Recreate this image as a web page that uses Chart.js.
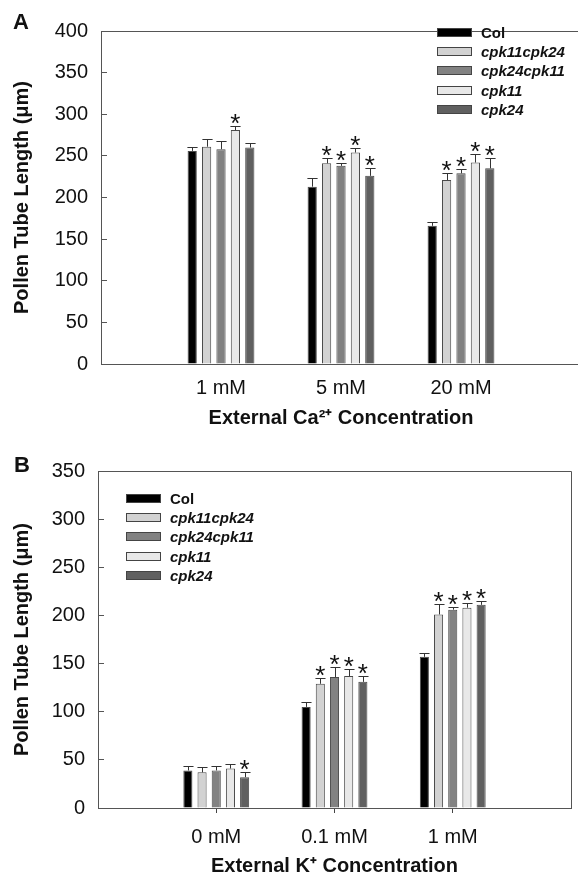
<!DOCTYPE html>
<html>
<head>
<meta charset="utf-8">
<script src="https://cdn.jsdelivr.net/npm/chart.js@4.4.1/dist/chart.umd.min.js"></script>
<style>
  html, body { margin: 0; padding: 0; background: #fff; overflow: hidden; }
  #page { position: relative; width: 578px; height: 878px; overflow: hidden; font-family: "Liberation Sans", Arial, sans-serif; color: #111; }
  canvas { position: absolute; left: 0; }
  #chartA { top: 0; }
  #chartB { top: 440px; }
  .panel { position: absolute; font-weight: bold; font-size: 22px; line-height: 22px; }
  .legend { position: absolute; font-size: 15px; font-weight: bold; font-style: italic; }
  .legend .row { display: flex; align-items: center; height: 19.2px; }
  .legend .row.upright { font-style: normal; }
  .legend .sw { width: 35px; height: 9px; border: 1px solid #444; box-sizing: border-box; margin-right: 9px; }
</style>
</head>
<body>
<div id="page">
  <canvas id="chartA" width="584" height="440"></canvas>
  <canvas id="chartB" width="578" height="438"></canvas>
  <div class="panel" style="left:13px; top:11px;">A</div>
  <div class="panel" style="left:14px; top:454px;">B</div>
  <div class="legend" id="legendA" style="left:437px; top:23px;"></div>
  <div class="legend" id="legendB" style="left:126px; top:489px;"></div>
</div>
<script>
const FONT = '"Liberation Sans", Arial, sans-serif';

const seriesNames = ['Col', 'cpk11cpk24', 'cpk24cpk11', 'cpk11', 'cpk24'];
const seriesColors = ['#000000', '#d2d2d2', '#828282', '#e8e8e8', '#606060'];

// Panel A - external Ca2+
const caLabels = ['1 mM', '5 mM', '20 mM'];
const caCol = [256, 213, 166];
const caCpk11cpk24 = [261, 241, 221];
const caCpk24cpk11 = [258, 238, 229];
const caCpk11 = [281, 254, 242];
const caCpk24 = [260, 226, 235];
const caColErr = [5, 10, 5];
const caCpk11cpk24Err = [9, 6, 9];
const caCpk24cpk11Err = [10, 4, 5];
const caCpk11Err = [5, 5, 10];
const caCpk24Err = [5, 10, 12];
const caColSig = [0, 0, 0];
const caCpk11cpk24Sig = [0, 1, 1];
const caCpk24cpk11Sig = [0, 1, 1];
const caCpk11Sig = [1, 1, 1];
const caCpk24Sig = [0, 1, 1];

// Panel B - external K+
const kLabels = ['0 mM', '0.1 mM', '1 mM'];
const kCol = [39, 105, 157];
const kCpk11cpk24 = [37, 129, 201];
const kCpk24cpk11 = [39, 136, 206];
const kCpk11 = [41, 137, 208];
const kCpk24 = [32, 131, 211];
const kColErr = [4.5, 5, 4];
const kCpk11cpk24Err = [6, 6, 11];
const kCpk24cpk11Err = [5, 10, 2.5];
const kCpk11Err = [5, 7, 5];
const kCpk24Err = [5, 6, 4];
const kColSig = [0, 0, 0];
const kCpk11cpk24Sig = [0, 1, 1];
const kCpk24cpk11Sig = [0, 1, 1];
const kCpk11Sig = [0, 1, 1];
const kCpk24Sig = [1, 1, 1];

const yTicksA = { min: 0, max: 400, step: 50 };
const yTicksB = { min: 0, max: 350, step: 50 };

// error bars + asterisks
const errorBars = {
  id: 'errorBars',
  afterDatasetsDraw(chart) {
    const { ctx } = chart;
    const y = chart.scales.y;
    ctx.save();
    ctx.strokeStyle = '#333';
    ctx.fillStyle = '#111';
    ctx.lineWidth = 1;
    ctx.font = '26px ' + FONT;
    ctx.textAlign = 'center';
    ctx.textBaseline = 'alphabetic';
    const m = ctx.measureText('*');
    chart.data.datasets.forEach((ds, i) => {
      const meta = chart.getDatasetMeta(i);
      ds.data.forEach((v, j) => {
        if (v === null) return;
        const el = meta.data[j];
        const k = j - 1;
        const top = Math.round(y.getPixelForValue(v + ds.errs[k])) + 0.5;
        const half = el.width / 2 + 0.5;
        const x = Math.round(el.x) + 0.5;
        ctx.beginPath();
        ctx.moveTo(x, el.y);
        ctx.lineTo(x, top);
        ctx.moveTo(x - half, top);
        ctx.lineTo(x + half, top);
        ctx.stroke();
        if (ds.sigs[k]) {
          ctx.fillText('*', el.x, top - 3 - m.actualBoundingBoxDescent);
        }
      });
    });
    ctx.restore();
  }
};

const frame = {
  id: 'frame',
  afterDraw(chart) {
    const { ctx, chartArea: a } = chart;
    ctx.save();
    ctx.strokeStyle = '#555';
    ctx.lineWidth = 1;
    ctx.beginPath();
    ctx.moveTo(Math.round(a.left), Math.round(a.top) + 0.5);
    ctx.lineTo(Math.round(a.right) + 0.5, Math.round(a.top) + 0.5);
    ctx.lineTo(Math.round(a.right) + 0.5, Math.round(a.bottom));
    ctx.stroke();
    ctx.restore();
  }
};

function makeChart(id, cats, series, errs, sigs, yt, cfg) {
  const labels = [''].concat(cats, ['']);
  const datasets = series.map((vals, i) => ({
    label: seriesNames[i],
    data: [null].concat(vals, [null]),
    errs: errs[i],
    sigs: sigs[i],
    backgroundColor: seriesColors[i],
    borderColor: '#4a4a4a',
    borderWidth: 1,
    categoryPercentage: 0.6,
    barPercentage: 0.64
  }));

  return new Chart(document.getElementById(id), {
    type: 'bar',
    data: { labels, datasets },
    options: {
      responsive: false,
      animation: false,
      layout: { padding: cfg.padding },
      plugins: { legend: { display: false }, tooltip: { enabled: false } },
      scales: {
        x: {
          type: 'category',
          offset: false,
          grid: {
            display: true,
            offset: false,
            drawOnChartArea: false,
            drawTicks: cfg.xTicks,
            tickLength: 5,
            tickColor: c => (c.index > 0 && c.index < labels.length - 1) ? '#444' : 'rgba(0,0,0,0)'
          },
          border: { display: true, color: '#555', width: 1 },
          ticks: { color: '#111', font: { size: 20, family: FONT }, padding: cfg.xPad, maxRotation: 0, autoSkip: false },
          title: {
            display: true, text: cfg.xTitle, color: '#111',
            font: { size: 20, weight: 'bold', family: FONT },
            padding: { top: 0, bottom: cfg.xTitlePad }
          },
          afterFit: s => {
            s.height = cfg.xHeight;
            s.paddingLeft = 0;
            s.paddingRight = 0;
          }
        },
        y: {
          min: yt.min, max: yt.max,
          ticks: { stepSize: yt.step, color: '#111', font: { size: 20, family: FONT }, padding: 19 },
          grid: { drawOnChartArea: false, drawTicks: true, tickLength: -6, color: '#555' },
          border: { display: true, color: '#555', width: 1 },
          title: {
            display: true, text: 'Pollen Tube Length (μm)', color: '#111',
            font: { size: 20, weight: 'bold', family: FONT },
            padding: { top: 10, bottom: 0 }
          },
          afterFit: s => { s.width = cfg.yWidth; }
        }
      }
    },
    plugins: [errorBars, frame]
  });
}

makeChart('chartA', caLabels,
  [caCol, caCpk11cpk24, caCpk24cpk11, caCpk11, caCpk24],
  [caColErr, caCpk11cpk24Err, caCpk24cpk11Err, caCpk11Err, caCpk24Err],
  [caColSig, caCpk11cpk24Sig, caCpk24cpk11Sig, caCpk11Sig, caCpk24Sig],
  yTicksA,
  { padding: { top: 19, right: 3, left: 0, bottom: 0 }, xTicks: false, xPad: 12, xTitle: 'External Ca²⁺ Concentration', xTitlePad: 10, xHeight: 76, yWidth: 101 });

makeChart('chartB', kLabels,
  [kCol, kCpk11cpk24, kCpk24cpk11, kCpk11, kCpk24],
  [kColErr, kCpk11cpk24Err, kCpk24cpk11Err, kCpk11Err, kCpk24Err],
  [kColSig, kCpk11cpk24Sig, kCpk24cpk11Sig, kCpk11Sig, kCpk24Sig],
  yTicksB,
  { padding: { top: 27, right: 7, left: 0, bottom: 0 }, xTicks: true, xPad: 12, xTitle: 'External K⁺ Concentration', xTitlePad: 0, xHeight: 70, yWidth: 98 });

function buildLegend(id) {
  const box = document.getElementById(id);
  seriesNames.forEach((name, i) => {
    const row = document.createElement('div');
    row.className = 'row' + (i === 0 ? ' upright' : '');
    const sw = document.createElement('span');
    sw.className = 'sw';
    sw.style.background = seriesColors[i];
    const txt = document.createElement('span');
    txt.textContent = name;
    row.appendChild(sw);
    row.appendChild(txt);
    box.appendChild(row);
  });
}
buildLegend('legendA');
buildLegend('legendB');
</script>
</body>
</html>
